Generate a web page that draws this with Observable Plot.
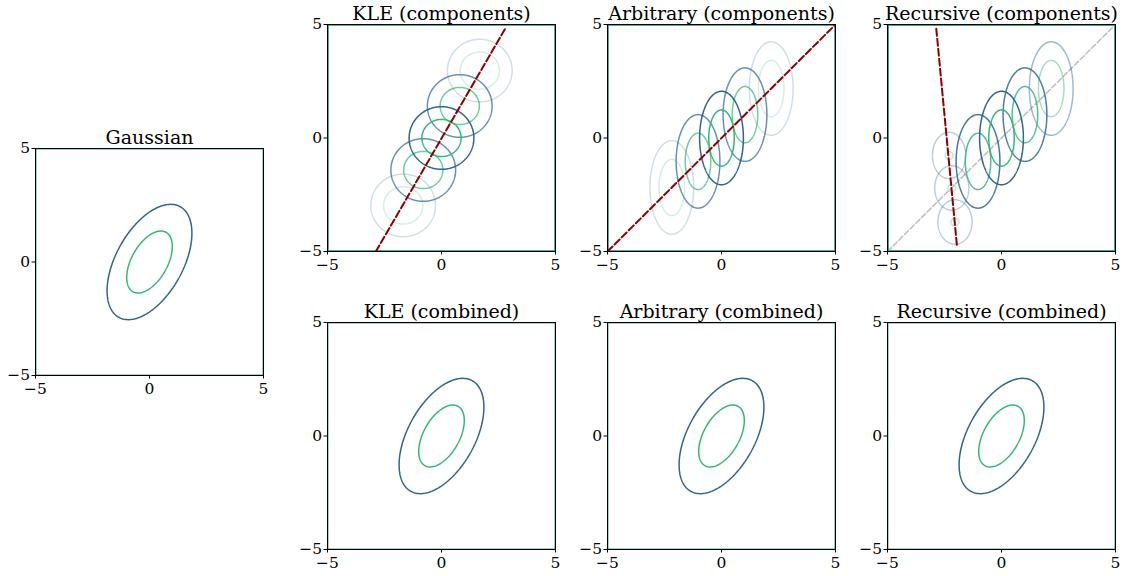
<!DOCTYPE html>
<html><head><meta charset="utf-8">
<script src="https://cdn.jsdelivr.net/npm/d3@7"></script>
<script src="https://cdn.jsdelivr.net/npm/@observablehq/plot@0.6"></script>
<style>
body{margin:0;background:#fff;}
#chart{position:relative;width:1122px;height:576px;overflow:hidden;background:#fff;}
.panel{position:absolute;}
.panel svg{max-width:none !important;}
</style></head><body><div id="chart"></div>
<script>
// ---------- data ----------
const ticks = [-5, 0, 5];
const titles = ["Gaussian", "KLE (components)", "Arbitrary (components)", "Recursive (components)",
                "KLE (combined)", "Arbitrary (combined)", "Recursive (combined)"];

// Gaussian: covariance entries [sxx, sxy, syy] and Mahalanobis radii of the two contour levels
const gaussCov = [1.0, 0.683, 1.865];
const levelRadii = [1.0, 1.86];           // inner, outer
const levelColors = ["#35b779", "#2f6690"]; // inner, outer

// KLE components
const kleX = [-1.68, -0.80, 0, 0.80, 1.68];
const kleY = [-2.97, -1.41, 0, 1.41, 2.97];
const kleAlpha = [0.22, 0.72, 1, 0.72, 0.22];
const kleOuterR = [1.42, 1.38];
const kleInnerR = [0.86, 0.82];
const kleLineX = [-2.88, 2.83];
const kleLineY = [-5.0, 4.88];

// Arbitrary components
const arbX = [-2.18, -1.03, 0, 1.03, 2.18];
const arbY = [-2.18, -1.03, 0, 1.03, 2.18];
const arbAlpha = [0.22, 0.72, 1, 0.72, 0.22];
const arbOuterR = [0.96, 2.06];
const arbInnerR = [0.56, 1.24];
const arbLineX = [-5, 5];
const arbLineY = [-5, 5];

// Recursive components
const recX = [-2.30, -2.18, -2.04, -1.03, 0, 1.03, 2.18];
const recY = [-0.77, -2.20, -3.70, -1.03, 0, 1.03, 2.18];
const recAlpha = [0.32, 0.32, 0.32, 0.88, 1, 0.85, 0.45];
const recOuterRx = [0.73, 0.75, 0.75, 0.96, 0.96, 0.96, 0.96];
const recOuterRy = [1.02, 0.98, 0.98, 2.06, 2.06, 2.06, 2.06];
const recInnerRx = [0.17, 0.17, 0.17, 0.56, 0.56, 0.56, 0.56];
const recInnerRy = [0.17, 0.17, 0.17, 1.24, 1.24, 1.24, 1.24];
const recLineX = [-2.86, -1.95];
const recLineY = [4.81, -4.79];
const diagX = [-5, 5];
const diagY = [-5, 5];

// ---------- layout ----------
const FONT = "'DejaVu Serif', serif";
const FW = 228, FH = 227;
const ML = 40, MR = 12, MT = 30, MB = 30;
const frames = [[35, 148], [327, 24], [607, 24], [887, 24], [327, 322], [607, 322], [887, 322]];

// ---------- helpers ----------
const [sxx, sxy, syy] = gaussCov;
const det = sxx * syy - sxy * sxy;
const maha2 = (x, y) => (syy * x * x - 2 * sxy * x * y + sxx * y * y) / det;

function contourMark(fn, threshold, color, opacity, px = 0.5) {
  return Plot.contour({
    value: fn, x1: -5, x2: 5, y1: -5, y2: 5,
    thresholds: [threshold], fill: "none", stroke: color,
    strokeOpacity: opacity, strokeWidth: 1.5, pixelSize: px, clip: true
  });
}
function gaussMarks() {
  return [
    contourMark(maha2, levelRadii[1] ** 2, levelColors[1], 1, 1),
    contourMark(maha2, levelRadii[0] ** 2, levelColors[0], 1, 1)
  ];
}
function ellipseMarks(xs, ys, alphas, orx, ory, irx, iry) {
  const order = d3.range(xs.length).sort((a, b) => alphas[a] - alphas[b]);
  const marks = [];
  for (const i of order) {
    const cx = xs[i], cy = ys[i];
    const f = (rx, ry) => (x, y) => ((x - cx) / rx) ** 2 + ((y - cy) / ry) ** 2;
    marks.push(contourMark(f(orx[i], ory[i]), 1, levelColors[1], alphas[i]));
    marks.push(contourMark(f(irx[i], iry[i]), 1, levelColors[0], alphas[i], irx[i] < 0.3 ? 0.25 : 0.5));
  }
  return marks;
}
const rep = (v, n) => Array(n).fill(v);
function lineMark(xs, ys, color, width, dash) {
  return Plot.line(xs.map((x, i) => ({x, y: ys[i]})), {
    x: "x", y: "y", stroke: color, strokeWidth: width, strokeDasharray: dash, clip: true
  });
}

function panel(i, marks) {
  const W = FW + ML + MR, H = FH + MT + MB;
  const p = Plot.plot({
    width: W, height: H,
    marginLeft: ML, marginRight: MR, marginTop: MT, marginBottom: MB,
    x: {domain: [-5, 5]}, y: {domain: [-5, 5]},
    style: {fontFamily: FONT, fontSize: "15.5px", background: "transparent", overflow: "visible", color: "black"},
    marks: [
      ...marks,
      Plot.frame({stroke: "black", strokeWidth: 1}),
      Plot.axisX({ticks, tickSize: 3.5, tickPadding: 4, fontSize: 15.5, label: null}),
      Plot.axisY({ticks, tickSize: 3.5, tickPadding: 2, fontSize: 15.5, label: null}),
      Plot.text([titles[i]], {frameAnchor: "top", dy: -5, lineAnchor: "bottom", fontSize: 19, fill: "black"})
    ]
  });
  p.style.maxWidth = "none";
  p.style.width = W + "px";
  p.style.height = H + "px";
  const wrap = document.createElement("div");
  wrap.className = "panel";
  wrap.style.left = (frames[i][0] - ML) + "px";
  wrap.style.top = (frames[i][1] - MT) + "px";
  wrap.style.width = W + "px";
  wrap.style.height = H + "px";
  wrap.appendChild(p);
  document.getElementById("chart").appendChild(wrap);
}

// Gaussian
panel(0, gaussMarks());
// KLE components
panel(1, [
  ...ellipseMarks(kleX, kleY, kleAlpha, rep(kleOuterR[0], 5), rep(kleOuterR[1], 5), rep(kleInnerR[0], 5), rep(kleInnerR[1], 5)),
  lineMark(kleLineX, kleLineY, "#8b0000", 2, "7,3")
]);
// Arbitrary components
panel(2, [
  ...ellipseMarks(arbX, arbY, arbAlpha, rep(arbOuterR[0], 5), rep(arbOuterR[1], 5), rep(arbInnerR[0], 5), rep(arbInnerR[1], 5)),
  lineMark(arbLineX, arbLineY, "#8b0000", 2, "7,3")
]);
// Recursive components
panel(3, [
  lineMark(diagX, diagY, "#bdbdbd", 1.5, "5.5,2.5"),
  ...ellipseMarks(recX, recY, recAlpha, recOuterRx, recOuterRy, recInnerRx, recInnerRy),
  lineMark(recLineX, recLineY, "#8b0000", 2, "7,3")
]);
// Combined
panel(4, gaussMarks());
panel(5, gaussMarks());
panel(6, gaussMarks());
</script></body></html>
